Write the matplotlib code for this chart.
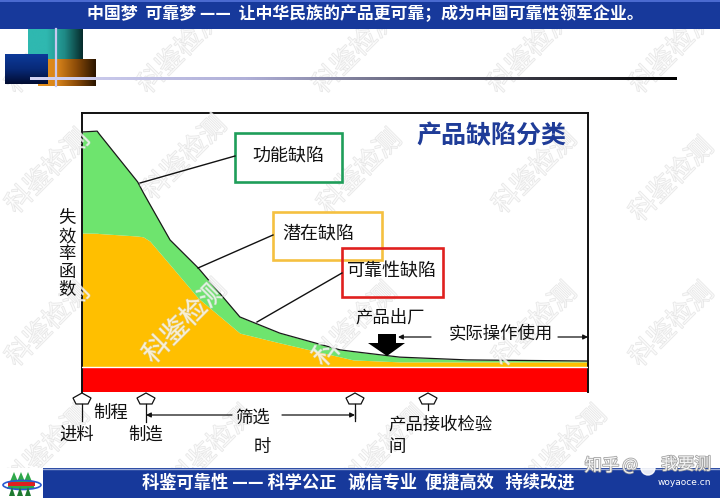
import numpy as np
import matplotlib
matplotlib.use("Agg")
import matplotlib.pyplot as plt
from matplotlib.patches import Rectangle, Polygon, Ellipse, Circle
from matplotlib.colors import LinearSegmentedColormap
import matplotlib.patheffects as pe

plt.rcParams['font.family'] = ['Noto Sans CJK SC', 'DejaVu Sans']

# ---------------- data ----------------
time = [0, 3, 3.4, 11, 12.1, 13.4, 17.4, 23, 31.2, 39.1, 51, 53.6, 62.8, 76.1, 100]
functional_total = [93.2, 93.5, 92.5, 75.3, 71.5, 67.3, 54.5, 44.4, 26.9, 21.1, 15.1, 14.5, 12.5, 11.5, 11.1]
latent_total = [57.0, 56.9, 56.8, 55.9, 55.6, 54.1, 45.6, 33.6, 21.1, 17.6, 12.6, 11.5, 10.8, 10.8, 10.8]
reliability_level = 9.0

defect_labels = ['功能缺陷', '潜在缺陷', '可靠性缺陷']
chart_title = '产品缺陷分类'
y_label = '失效率函数'
header_text = '中国梦  可靠梦 ——  让中华民族的产品更可靠；成为中国可靠性领军企业。'
footer_text = '科鉴可靠性 —— 科学公正   诚信专业  便捷高效   持续改进'
ship_label = '产品出厂'
use_label = '实际操作使用'
watermark = '科鉴检测'

W, H = 720, 498
fig = plt.figure(figsize=(7.2, 4.98), dpi=100)
fig.patch.set_facecolor('white')

# ---------------- main chart axes ----------------
bx0, bx1, by0, by1 = 82, 588, 113, 392
ax = fig.add_axes([bx0 / W, 1 - by1 / H, (bx1 - bx0) / W, (by1 - by0) / H], zorder=1)
ax.set_xlim(0, 100)
ax.set_ylim(0, 100)
ax.set_xticks([])
ax.set_yticks([])
for s in ['left', 'top', 'right']:
    ax.spines[s].set_linewidth(1.4)
    ax.spines[s].set_color('#111111')
ax.spines['bottom'].set_visible(False)

t = np.array(time)
ft = np.array(functional_total)
lt = np.array(latent_total)
ax.axhspan(0, reliability_level, color='#ff0000', lw=0, zorder=2)
ax.fill_between(t, reliability_level, lt, color='#ffbf00', lw=0, zorder=2)
ax.fill_between(t, lt, ft, color='#6ee46e', lw=0, zorder=2)
ax.plot(t, ft, color='#1a1a1a', lw=0.9, zorder=3)
ax.axhline(reliability_level, color='white', lw=1.0, zorder=3)

# ---------------- overlay axes (pixel coords) ----------------
ov = fig.add_axes([0, 0, 1, 1], zorder=2)
ov.set_xlim(0, W)
ov.set_ylim(H, 0)
ov.axis('off')
ov.patch.set_alpha(0)

def grad_rect(x0, x1, y0, y1, colors, horizontal=True, z=3):
    cmap = LinearSegmentedColormap.from_list('g', colors)
    g = np.linspace(0, 1, 256)
    img = g[None, :] if horizontal else g[:, None]
    ov.imshow(img, cmap=cmap, extent=(x0, x1, y1, y0), aspect='auto', zorder=z, interpolation='bilinear')

# watermarks
wm_pos = [(48, 52), (180, 52), (355, 52), (530, 52), (672, 52),
          (48, 172), (185, 158), (360, 172), (535, 172), (672, 180),
          (48, 325), (185, 322), (355, 325), (535, 325), (672, 325),
          (48, 448), (212, 448), (385, 448), (565, 448)]
for (x, y) in wm_pos:
    ov.text(x, y, watermark, fontsize=19, rotation=45, color='white', alpha=0.55,
            ha='center', va='center', zorder=1,
            path_effects=[pe.withStroke(linewidth=0.9, foreground='#d2d2d2')])

# header
ov.add_patch(Rectangle((0, 0), W, 29, color='#17399b', zorder=5, lw=0))
ov.add_patch(Rectangle((0, 0), W, 2, color='#4a6ad0', zorder=5, lw=0))
ov.text(365, 14.5, header_text, color='white', fontsize=12.2, fontweight='bold',
        ha='center', va='center', zorder=6)

# decorative blocks
grad_rect(28, 83, 29, 60, ['#2fb8b0', '#2fb8b0', '#1f8a86', '#062a2a'], z=3)
grad_rect(38, 96, 59, 86, ['#e8921c', '#d8841a', '#8a4a08', '#2a1500'], z=4)
grad_rect(5, 48, 54, 84, ['#0d3a9a', '#082a78', '#020c30'], horizontal=False, z=5)
ov.plot([56, 56], [29, 86], color='#c8c8f0', lw=1.6, zorder=6)
grad_rect(30, 677, 78, 80.5, ['#d4d4f4', '#b0b0d8', '#505060', '#000000'], z=6)

# footer
ov.add_patch(Rectangle((43, 468), W - 43, 30, color='#17399b', zorder=5, lw=0))
ov.plot([43, W], [468.5, 468.5], color='#9aaad8', lw=1, zorder=5)
ov.text(358, 483, footer_text, color='white', fontsize=12.4, fontweight='bold',
        ha='center', va='center', zorder=6)
# logo
ov.add_patch(Rectangle((0, 468), 43, 30, color='white', zorder=5, lw=0))
for cx in (14, 21, 28):
    ov.add_patch(Polygon([(cx - 7, 489), (cx, 472), (cx + 7, 489)], color='#2fa84a', zorder=6, lw=0))
ov.add_patch(Rectangle((8, 482), 27, 4, color='#e02020', zorder=7, lw=0))
ov.add_patch(Ellipse((22, 485), 38, 9, fill=False, edgecolor='#2a5bd0', lw=1.2, zorder=7))
for cx in (12, 20, 28):
    ov.add_patch(Polygon([(cx - 3, 496), (cx, 487), (cx + 3, 496)], color='#1e7a30', zorder=7, lw=0))

# zhihu watermark
wm_eff = [pe.withStroke(linewidth=1.2, foreground='#9a9a9a')]
ov.text(602, 466, '知乎', fontsize=12.5, color='white', alpha=0.9, ha='center', va='center', zorder=8, path_effects=wm_eff)
ov.text(630, 466, '@', fontsize=12, color='white', alpha=0.9, ha='center', va='center', zorder=8, path_effects=wm_eff)
ov.add_patch(Circle((648, 468), 7, color='white', alpha=0.9, zorder=8))
ov.text(686, 465, '我要测', fontsize=12, color='white', alpha=0.9, ha='center', va='center', zorder=8, path_effects=wm_eff)
ov.text(684, 482, 'woyaoce.cn', fontsize=6.5, color='white', ha='center', va='center', zorder=8, family='DejaVu Sans')

# chart title
ov.text(491, 136, chart_title, fontsize=18, fontweight='bold', color='#1f3c98',
        ha='center', va='center', zorder=4)

# defect label boxes and leaders
boxes = [((235, 133, 342, 182), '#1f9e5a', (288, 156)),
         ((273, 212, 382, 260), '#f5c040', (318, 234)),
         ((342, 248, 443, 297), '#e0201e', (392, 272))]
leaders = [((235, 156), (140, 183)),
           ((273, 235), (198, 268)),
           ((342, 273), (257, 322))]
for (b, col, tc), lab, (p0, p1) in zip(boxes, defect_labels, leaders):
    x0, y0, x1, y1 = b
    ov.add_patch(Rectangle((x0, y0), x1 - x0, y1 - y0, fill=False, edgecolor=col, lw=1.9, zorder=4))
    ov.text(tc[0], tc[1], lab, fontsize=13, color='#111111', ha='center', va='center', zorder=4)
    ov.plot([p0[0], p1[0]], [p0[1], p1[1]], color='#111111', lw=1.0, zorder=4)

# y label (vertical characters)
for i, ch in enumerate(y_label):
    ov.text(67, 218 + i * 18, ch, fontsize=12.5, color='#111111', ha='center', va='center', zorder=4)

# shipping arrow & label
ov.text(390, 318, ship_label, fontsize=12.5, color='#111111', ha='center', va='center', zorder=4)
ov.add_patch(Polygon([(378, 334), (396, 334), (396, 343), (405, 343), (387, 356),
                      (368, 343), (378, 343)], color='black', zorder=4, lw=0))
ov.text(501, 333, use_label, fontsize=12.5, color='#111111', ha='center', va='center', zorder=4)
arr = dict(arrowstyle='-|>', color='#111111', lw=0.9, mutation_scale=7, shrinkA=0, shrinkB=0)
ov.annotate('', xy=(398, 337), xytext=(431, 337), arrowprops=arr, zorder=4)
ov.annotate('', xy=(588, 337), xytext=(558, 337), arrowprops=arr, zorder=4)

# bottom stage markers
markers = [(82, 421), (146, 422), (355, 418), (428, 410)]
for x, ybot in markers:
    ov.add_patch(Polygon([(x, 393), (x + 9, 398), (x + 6, 404), (x - 6, 404), (x - 9, 398)],
                         facecolor='white', edgecolor='#111111', lw=0.9, zorder=4))
    ov.plot([x, x], [404, ybot], color='#111111', lw=0.9, zorder=4)
ov.annotate('', xy=(146, 415), xytext=(232, 415), arrowprops=arr, zorder=4)
ov.annotate('', xy=(355, 415), xytext=(282, 415), arrowprops=arr, zorder=4)
ov.plot([355, 355], [410, 421], color='#111111', lw=0.9, zorder=4)

stage_texts = [('制程', 111, 413), ('进料', 77, 435), ('制造', 146, 435), ('筛选', 253, 418),
               ('时', 262, 447), ('产品接收检验', 441, 425), ('间', 397, 447)]
for s, x, y in stage_texts:
    ov.text(x, y, s, fontsize=12.5, color='#111111', ha='center', va='center', zorder=4)

fig.savefig('out.png', dpi=100)
